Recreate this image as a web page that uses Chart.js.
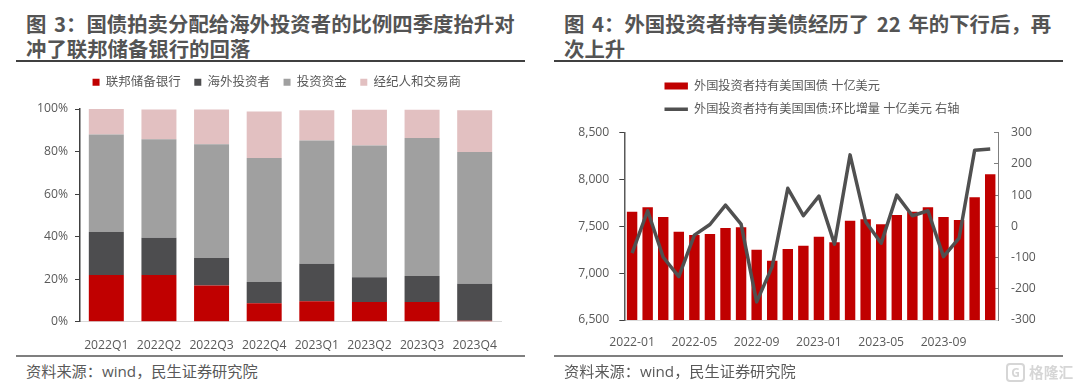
<!DOCTYPE html>
<html>
<head>
<meta charset="utf-8">
<script src="https://cdn.jsdelivr.net/npm/chart.js@4"></script>
<style>
body { margin: 0; background: #fff; width: 1080px; height: 389px; overflow: hidden; position: relative; font-family: "Open Sans", "Noto Sans CJK SC", sans-serif; }
.title { position: absolute; top: 11px; font: bold 20.4px/24.5px "Noto Sans CJK SC", sans-serif; word-spacing: 3px; color: #545454; white-space: nowrap; }
.rule { position: absolute; height: 1.5px; }
.source { position: absolute; top: 361px; font-size: 15.2px; line-height: 20px; color: #595959; white-space: nowrap; }
canvas { position: absolute; }
.mark { position: absolute; left: 1029px; top: 361px; font: bold 14.7px/22px "Noto Sans CJK SC", sans-serif; color: #d6d6d6; white-space: nowrap; }
.logo { position: absolute; left: 1006px; top: 363px; width: 15px; height: 15px; border: 2px solid #d6d6d6; border-radius: 4px; font: bold 12px/15px "Open Sans", sans-serif; color: #d6d6d6; text-align: center; }
</style>
</head>
<body>
<div class="title" style="left:26px">图 3：国债拍卖分配给海外投资者的比例四季度抬升对<br>冲了联邦储备银行的回落</div>
<div class="rule" style="left:16px;width:509px;top:60px;background:#404040"></div>
<canvas id="auctionChart" style="left:0;top:62px"></canvas>
<div class="rule" style="left:16px;width:509px;top:355px;background:#7f7f7f"></div>
<div class="source" style="left:26px">资料来源：wind，民生证券研究院</div>

<div class="title" style="left:564px">图 4：外国投资者持有美债经历了 22 年的下行后，再<br>次上升</div>
<div class="rule" style="left:554px;width:509px;top:60px;background:#404040"></div>
<canvas id="holdingChart" style="left:545px;top:62px"></canvas>
<div class="rule" style="left:554px;width:509px;top:355px;background:#7f7f7f"></div>
<div class="source" style="left:564px">资料来源：wind，民生证券研究院</div>
<div class="logo">G</div>
<div class="mark">格隆汇</div>

<script>
const quarters = ["2022Q1", "2022Q2", "2022Q3", "2022Q4", "2023Q1", "2023Q2", "2023Q3", "2023Q4"];
const fedShare = [22, 22, 17, 8.7, 9.6, 9.3, 9.3, 0.5];
const foreignShare = [20.2, 17.5, 13, 10, 17.7, 11.6, 12.2, 17.3];
const fundShare = [45.8, 46.3, 53.4, 58.3, 57.9, 61.9, 64.9, 62];
const dealerShare = [12, 14, 16.4, 21.8, 14.2, 16.8, 13.3, 19.6];

const months = ["2022-01", "2022-02", "2022-03", "2022-04", "2022-05", "2022-06", "2022-07", "2022-08", "2022-09", "2022-10", "2022-11", "2022-12",
    "2023-01", "2023-02", "2023-03", "2023-04", "2023-05", "2023-06", "2023-07", "2023-08", "2023-09", "2023-10", "2023-11", "2023-12"];
const holdings = [7657, 7703, 7600, 7443, 7408, 7418, 7483, 7490, 7251, 7134, 7258, 7294,
    7390, 7329, 7561, 7575, 7522, 7621, 7657, 7703, 7600, 7568, 7810, 8056];
const holdingsChange = [-86, 50, -99, -161, -28, 6, 68, 7, -242, -129, 122, 34,
    97, -57, 229, 15, -54, 100, 34, 50, -97, -38, 244, 248];

const textColor = "#595959";
const fontStack = "'Open Sans', 'Noto Sans CJK SC', sans-serif";

Chart.defaults.font.family = fontStack;
Chart.defaults.font.size = 12.2;
Chart.defaults.color = textColor;
Chart.defaults.animation = false;
Chart.defaults.responsive = false;

// moves the legend after layout, the chart area stays where it is
const legendShift = {
    id: "legendShift",
    afterLayout(chart, args, opts) {
        chart.legend.left += opts.dx;
        chart.legend.right += opts.dx;
        chart.legend.top += opts.dy;
    }
};

const shareSet = (label, data, color) => ({ label, data, backgroundColor: color, barPercentage: 0.665, categoryPercentage: 1 });

const auctionCanvas = document.getElementById("auctionChart");
auctionCanvas.width = 550;
auctionCanvas.height = 290;
new Chart(auctionCanvas, {
    type: "bar",
    data: {
        labels: quarters,
        datasets: [
            shareSet("联邦储备银行", fedShare, "#c00000"),
            shareSet("海外投资者", foreignShare, "#4d4d4f"),
            shareSet("投资资金", fundShare, "#a0a0a0"),
            shareSet("经纪人和交易商", dealerShare, "#e2c0c1")
        ]
    },
    plugins: [legendShift],
    options: {
        layout: { padding: { top: 11, right: 49 } },
        plugins: {
            legendShift: { dx: 26.3, dy: -10.5 },
            tooltip: { enabled: false },
            legend: {
                labels: { boxWidth: 7, boxHeight: 7, padding: 13.5, font: { size: 12.5 } }
            }
        },
        scales: {
            x: {
                stacked: true,
                grid: { display: false },
                border: { color: "#d9d9d9", width: 1 },
                ticks: { maxRotation: 0, autoSkip: false, padding: 9 },
                afterFit: s => { s.height = 30.3; }
            },
            y: {
                stacked: true,
                min: 0,
                max: 100,
                grid: { drawOnChartArea: false, tickLength: 5, tickColor: "#404040" },
                border: { color: "#404040", width: 1.5 },
                ticks: { stepSize: 20, padding: 7, callback: v => v + "%" },
                afterFit: s => { s.width = 80; }
            }
        }
    }
});

const holdingCanvas = document.getElementById("holdingChart");
holdingCanvas.width = 535;
holdingCanvas.height = 290;
new Chart(holdingCanvas, {
    type: "bar",
    data: {
        labels: months,
        datasets: [
            {
                label: "外国投资者持有美国国债 十亿美元",
                data: holdings,
                backgroundColor: "#c00000",
                pointStyle: "rect",
                barPercentage: 0.67,
                categoryPercentage: 1,
                yAxisID: "y",
                order: 2
            },
            {
                type: "line",
                label: "外国投资者持有美国国债:环比增量 十亿美元 右轴",
                data: holdingsChange,
                borderColor: "#505050",
                backgroundColor: "#505050",
                borderWidth: 3.5,
                borderJoinStyle: "round",
                tension: 0,
                pointRadius: 0,
                pointStyle: "line",
                pointBorderColor: "#505050",
                pointBorderWidth: 3.5,
                yAxisID: "y1",
                order: 1
            }
        ]
    },
    plugins: [legendShift],
    options: {
        layout: { padding: { top: 14.3, right: 42 } },
        plugins: {
            legendShift: { dx: 29.2, dy: -7.3 },
            tooltip: { enabled: false },
            legend: {
                fullSize: false,
                align: "start",
                labels: {
                    usePointStyle: true,
                    boxHeight: 7,
                    pointStyleWidth: 23.4,
                    padding: 11,
                    font: { size: 12.2 },
                    sort: (a, b) => a.datasetIndex - b.datasetIndex
                }
            }
        },
        scales: {
            x: {
                grid: { display: false },
                border: { color: "#d9d9d9", width: 1 },
                ticks: {
                    maxRotation: 0,
                    autoSkip: false,
                    padding: 7,
                    callback(v, i) { return i % 4 === 0 ? months[i] : ""; }
                },
                afterFit: s => { s.height = 32; }
            },
            y: {
                min: 6500,
                max: 8500,
                grid: { drawOnChartArea: false, tickLength: 5, tickColor: "#404040" },
                border: { color: "#595959", width: 1.5 },
                ticks: { stepSize: 500, padding: 10, callback: v => v.toLocaleString("en-US") },
                afterFit: s => { s.width = 79.3; }
            },
            y1: {
                position: "right",
                min: -300,
                max: 300,
                grid: { drawOnChartArea: false, tickLength: -4, tickColor: "#7f7f7f" },
                border: { color: "#7f7f7f", width: 1 },
                ticks: { stepSize: 100, padding: 17, callback: v => String(v) },
                afterFit: s => { s.width = 40; }
            }
        }
    }
});
</script>
</body>
</html>
